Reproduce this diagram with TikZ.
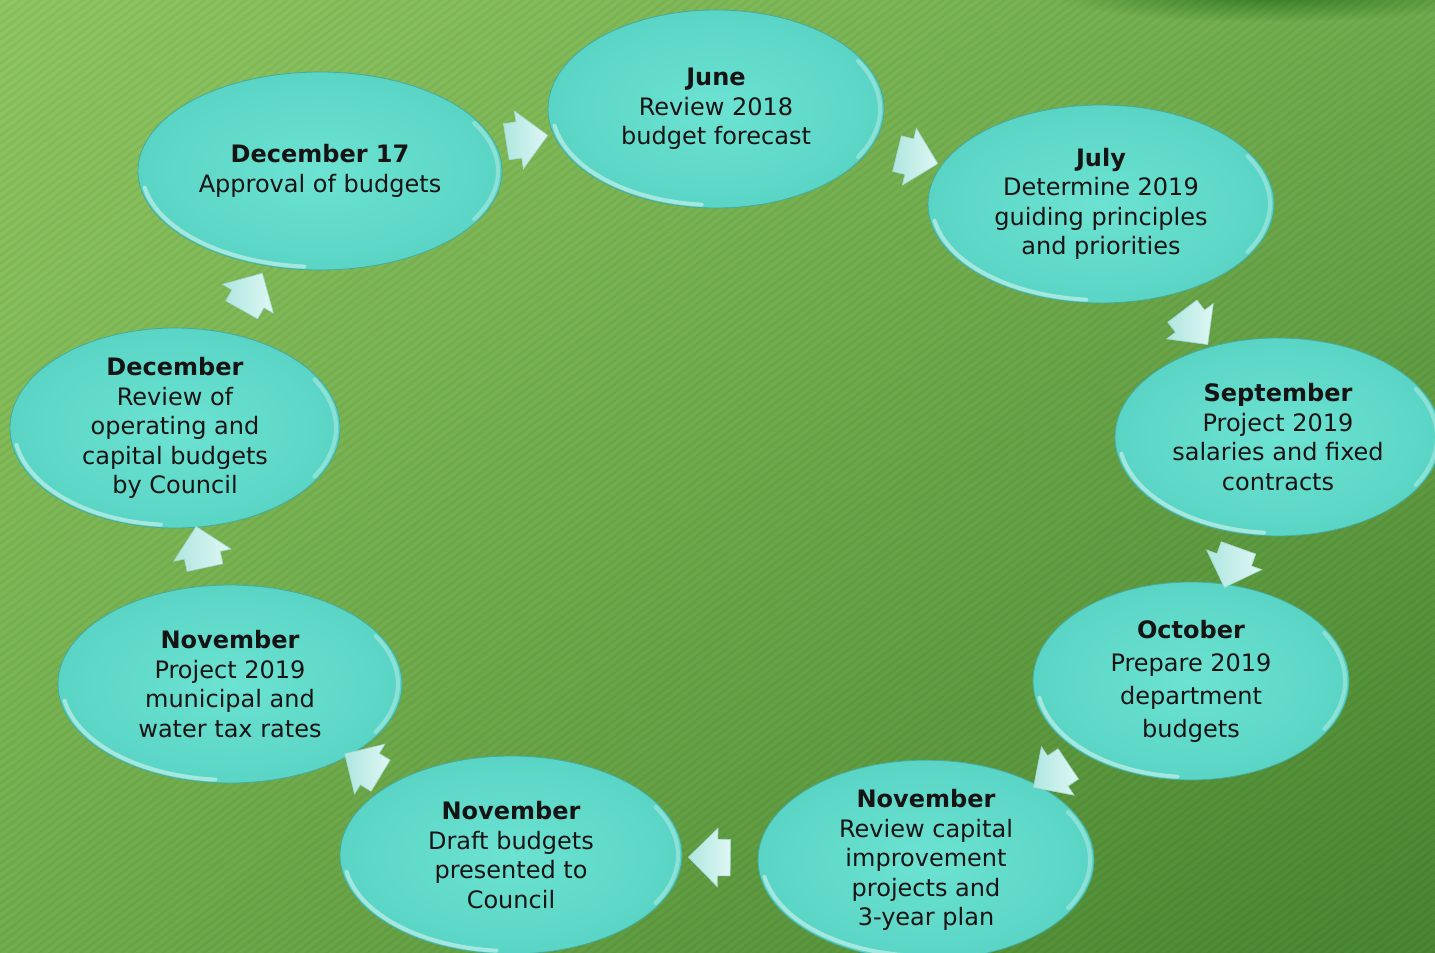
\documentclass[tikz,border=0pt]{standalone}
\usepackage{fontspec}
\setmainfont{DejaVu Sans}
\usetikzlibrary{shapes.geometric,shapes.arrows,fadings,shadings}
\definecolor{bgUL}{RGB}{143,199,97}
\definecolor{bgUR}{RGB}{112,172,78}
\definecolor{bgLL}{RGB}{114,174,78}
\definecolor{bgLR}{RGB}{72,134,48}
\definecolor{tealIn}{RGB}{108,226,210}
\definecolor{tealOut}{RGB}{90,213,197}
\definecolor{tealEdge}{RGB}{70,170,156}
\definecolor{arrTop}{RGB}{222,247,244}
\definecolor{arrBot}{RGB}{176,230,224}
\definecolor{arrEdge}{RGB}{160,218,211}
\definecolor{txt}{RGB}{20,20,20}
\tikzfading[name=softglow, inner color=transparent!0, outer color=transparent!100]
\newcommand\rimhl[3]{%
  \draw[rimline] ([shift={(190:#2 and #3)}]#1.center) arc[start angle=190,end angle=265,x radius=#2,y radius=#3];
  \draw[rimline, opacity=.3] ([shift={(-30:#2 and #3)}]#1.center) arc[start angle=-30,end angle=30,x radius=#2,y radius=#3];}
\begin{document}
\begin{tikzpicture}[x=1pt,y=-1pt,
  bubble/.style={ellipse, draw=tealEdge, line width=0.8pt, inner color=tealIn, outer color=tealOut,
    align=center, text=txt, inner sep=0pt, font=\fontsize{24}{29.5}\selectfont},
  cyc/.style={single arrow, single arrow head extend=11pt, single arrow head indent=0pt,
    minimum height=42pt, inner xsep=0pt, inner ysep=18pt,
    draw=arrEdge, line width=0.6pt, left color=arrBot, right color=arrTop,
    sloped, allow upside down},
  rimline/.style={white, opacity=.45, line width=4pt, line cap=round},
  stripe/.style={black, opacity=.045, line width=2.6pt}]
\useasboundingbox (0,0) rectangle (1435,953);
\clip (0,0) rectangle (1435,953);
% background
\shade[upper left=bgUL, upper right=bgUR, lower left=bgLL, lower right=bgLR] (0,0) rectangle (1435,953);
\foreach \i in {0,8,...,2100} \draw[stripe] (0,\i) -- (1435,\i-1120);
\fill[black!70!green, opacity=.55, path fading=softglow] (1270,-6) ellipse[x radius=220pt, y radius=28pt];
% bubbles
\node[bubble, minimum width=336pt, minimum height=198pt] (jun) at (716,109)
  {\textbf{June}\\Review 2018\\budget forecast};
\node[bubble, minimum width=346pt, minimum height=198pt] (jul) at (1101,204)
  {\textbf{July}\\Determine 2019\\guiding principles\\and priorities};
\node[bubble, minimum width=326pt, minimum height=198pt] (sep) at (1278,437)
  {\textbf{September}\\Project 2019\\salaries and fixed\\contracts};
\node[bubble, minimum width=316pt, minimum height=198pt, font=\fontsize{24}{33}\selectfont] (oct) at (1191,681)
  {\textbf{October}\\Prepare 2019\\department\\budgets};
\node[bubble, minimum width=336pt, minimum height=198pt] (novc) at (926,860)
  {\textbf{November}\\Review capital\\improvement\\projects and\\3-year plan};
\node[bubble, minimum width=342pt, minimum height=198pt] (novd) at (511,855)
  {\textbf{November}\\Draft budgets\\presented to\\Council};
\node[bubble, minimum width=344pt, minimum height=198pt] (novp) at (230,684)
  {\textbf{November}\\Project 2019\\municipal and\\water tax rates};
\node[bubble, minimum width=330pt, minimum height=200pt] (dec) at (175,428)
  {\textbf{December}\\Review of\\operating and\\capital budgets\\by Council};
\node[bubble, minimum width=364pt, minimum height=198pt] (decs) at (320,171)
  {\textbf{December 17}\\Approval of budgets};
% glossy rims
\rimhl{jun}{164pt}{96pt}
\rimhl{jul}{169pt}{96pt}
\rimhl{sep}{159pt}{96pt}
\rimhl{oct}{154pt}{96pt}
\rimhl{novc}{164pt}{96pt}
\rimhl{novd}{167pt}{96pt}
\rimhl{novp}{168pt}{96pt}
\rimhl{dec}{161pt}{97pt}
\rimhl{decs}{178pt}{96pt}
% cycle arrows
\path (decs.center) -- node[cyc]{} (jun.center);
\path (jun.center) -- node[cyc]{} (jul.center);
\path (jul.center) -- node[cyc]{} (sep.center);
\path (sep.center) -- node[cyc]{} (oct.center);
\path (oct.center) -- node[cyc]{} (novc.center);
\path (novc.center) -- node[cyc]{} (novd.center);
\path (novd.center) -- node[cyc]{} (novp.center);
\path (novp.center) -- node[cyc]{} (dec.center);
\path (dec.center) -- node[cyc]{} (decs.center);
\end{tikzpicture}
\end{document}
